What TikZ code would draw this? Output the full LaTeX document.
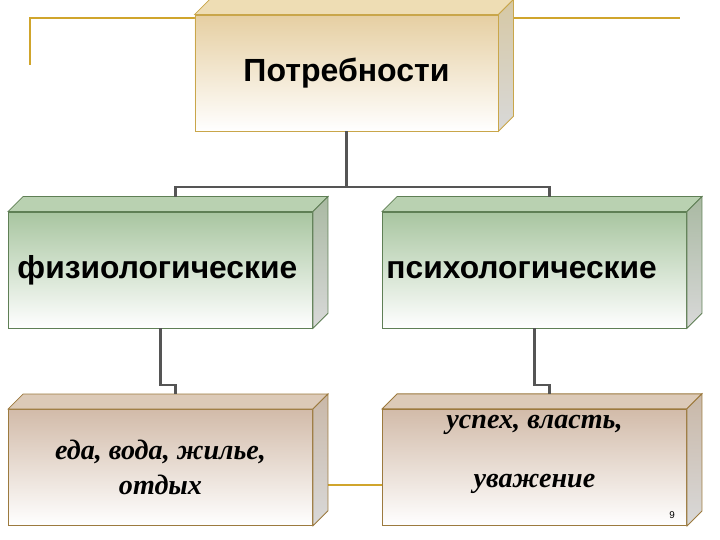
\documentclass[tikz,border=0pt]{standalone}
\usepackage{fontspec}
\setmainfont{Liberation Sans}
\newfontfamily\italfont{Liberation Serif}
\usetikzlibrary{calc}
\definecolor{ctan}{HTML}{E6CFA2}
\definecolor{ctanline}{HTML}{C9A64A}
\definecolor{ctantop}{HTML}{EEDDB4}
\definecolor{ctanside}{HTML}{D6C8A4}
\definecolor{cgreen}{HTML}{A8C5A0}
\definecolor{cgreenline}{HTML}{5F7F55}
\definecolor{cgreentop}{HTML}{B9D1B1}
\definecolor{cgreenside}{HTML}{A9B9A2}
\definecolor{crose}{HTML}{D2BBA9}
\definecolor{croseline}{HTML}{9C7A3E}
\definecolor{crosetop}{HTML}{DCCAB8}
\definecolor{croseside}{HTML}{C9B8A8}
\definecolor{cgold}{HTML}{D0A52C}
\definecolor{cconn}{HTML}{555555}
\tikzset{
  block/.style={draw=#1line, line width=0.6pt, top color=#1, bottom color=white,
    minimum width=76mm, minimum height=29mm, inner sep=1.5mm},
  topface/.style={draw=#1line, line width=0.6pt, fill=#1top},
  sideface/.style={draw=#1line, line width=0.6pt, top color=#1side, bottom color=gray!30},
  conn/.style={draw=cconn, line width=1.5pt},
  goldline/.style={draw=cgold, line width=1.1pt},
  headtxt/.style={font=\fontsize{22.8}{26}\selectfont\bfseries},
  kindtxt/.style={font=\fontsize{22.6}{27}\selectfont\bfseries, align=left, inner xsep=0mm},
  listtxt/.style={font=\italfont\bfseries\itshape\fontsize{20}{25}\selectfont, align=center},
}
\begin{document}
\begin{tikzpicture}[x=0.25mm, y=0.25mm]
  \useasboundingbox (0,0) rectangle (720,540);
  % frame lines behind the boxes
  \coordinate (g1) at (30,475);
  \coordinate (g2) at (680,522);
  \draw[goldline] (g1) |- (g2);

  \node[block=ctan, minimum width=75.75mm, headtxt] (top) at (346.5,467) {Потребности};
  \node[block=cgreen, kindtxt, text width=71.5mm] (fiz) at (160.5,270) {физиологические};
  \node[block=cgreen, kindtxt, text width=74mm] (psy) at (534.5,270) {психологические};
  \draw[goldline] ($(fiz.center)+(0,-215)$) -- ($(psy.west)+(0,-215)$);
  \node[block=crose, listtxt] (eda) at (160.5,72.5) {еда, вода, жилье,\\отдых};
  \node[block=crose, listtxt, text depth=8mm] (usp) at (534.5,72.5) {успех, власть,\\[6mm]уважение};

  % depth faces
  \foreach \n/\c in {top/ctan, fiz/cgreen, psy/cgreen, eda/crose, usp/crose}{
    \draw[topface=\c] (\n.north west) -- ++(15,15) -- ($(\n.north east)+(15,15)$) -- (\n.north east) -- cycle;
    \draw[sideface=\c] (\n.north east) -- ++(15,15) -- ($(\n.south east)+(15,15)$) -- (\n.south east) -- cycle;
    \coordinate (\n-t) at ($(\n.north)+(15,15)$);
  }

  % connectors
  \coordinate (bus) at ($(top.south)+(0,-56)$);
  \draw[conn] (top.south) -- (bus);
  \draw[conn] (fiz-t) |- (bus) -| (psy-t);
  \draw[conn] (fiz.south) |- ($(eda-t)+(0,9)$) -- (eda-t);
  \draw[conn] (psy.south) |- ($(usp-t)+(0,9)$) -- (usp-t);

  \node[font=\fontsize{7}{8}\selectfont] (pg) at (672,25) {9};
\end{tikzpicture}
\end{document}
